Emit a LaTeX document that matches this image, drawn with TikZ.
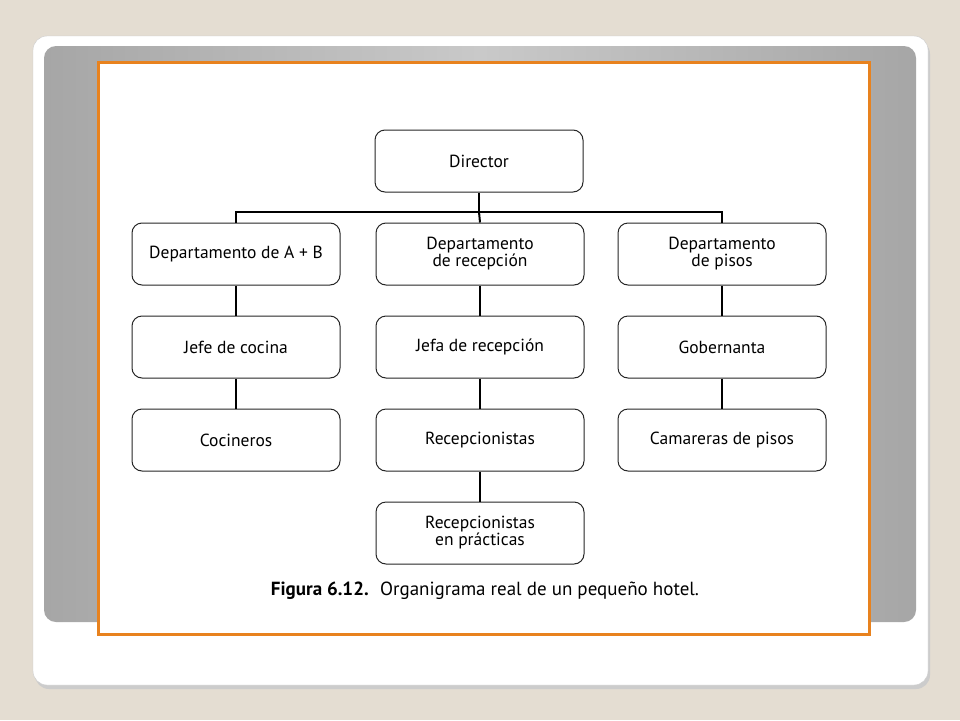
\documentclass[tikz,border=0pt]{standalone}
\usepackage{fontspec}
\setmainfont{PT Sans}
\begin{document}
\begin{tikzpicture}[x=1pt,y=-1pt,
  box/.style={draw=black!85,line width=1pt,rounded corners=10pt,minimum width=208pt,minimum height=62pt,align=center,font=\fontsize{17.5}{17}\selectfont,inner sep=0pt},
  conn/.style={draw=black,line width=2pt}]
\definecolor{bg}{HTML}{E4DDD2}
\definecolor{orng}{HTML}{E8821E}
\definecolor{gedge}{HTML}{A6A6A6}
\definecolor{gmid}{HTML}{C9C9C9}
\useasboundingbox (0,0) rectangle (960,720);
\fill[bg] (0,0) rectangle (960,720);
% card shadow
\fill[black!20,rounded corners=14pt] (35,40) rectangle (930,689);
\fill[white,draw=black!20,rounded corners=14pt] (33,36) rectangle (928,685);
% gray band
\shade[rounded corners=12pt,left color=gedge,right color=gedge,middle color=gmid] (44,46) rectangle (916,622);
% frame
\fill[white] (98,62) rectangle (869,634);
\draw[orng,line width=3pt] (98,62) rectangle (869,634);
% nodes
\node[box] (dir) at (479,161) {Director};
\node[box] (dab) at (236,254) {Departamento de A + B};
\node[box] (drec) at (480,254) {Departamento\\de recepción};
\node[box] (dpis) at (722,254) {Departamento\\de pisos};
\node[box] (jc) at (236,347) {Jefe de cocina};
\node[box] (jr) at (480,347) {Jefa de recepción};
\node[box] (gob) at (722,347) {Gobernanta};
\node[box] (coc) at (236,440) {Cocineros};
\node[box] (rec) at (480,440) {Recepcionistas};
\node[box] (cam) at (722,440) {Camareras de pisos};
\node[box] (recp) at (480,533) {Recepcionistas\\en prácticas};
\coordinate (bus) at (479,212);
% connectors
\draw[conn] (dir.south) -- (bus);
\draw[conn] (dab.north) |- (bus) -| (dpis.north);
\draw[conn] (bus) -- (drec.north);
\draw[conn] (dab) -- (jc);
\draw[conn] (jc) -- (coc);
\draw[conn] (drec) -- (jr);
\draw[conn] (jr) -- (rec);
\draw[conn] (rec) -- (recp);
\draw[conn] (dpis) -- (gob);
\draw[conn] (gob) -- (cam);
\node[font=\fontsize{19}{20}\selectfont,anchor=base] (cap) at (485,595) {\textbf{Figura 6.12.}\hspace{0.6em}Organigrama real de un pequeño hotel.};
\end{tikzpicture}
\end{document}
